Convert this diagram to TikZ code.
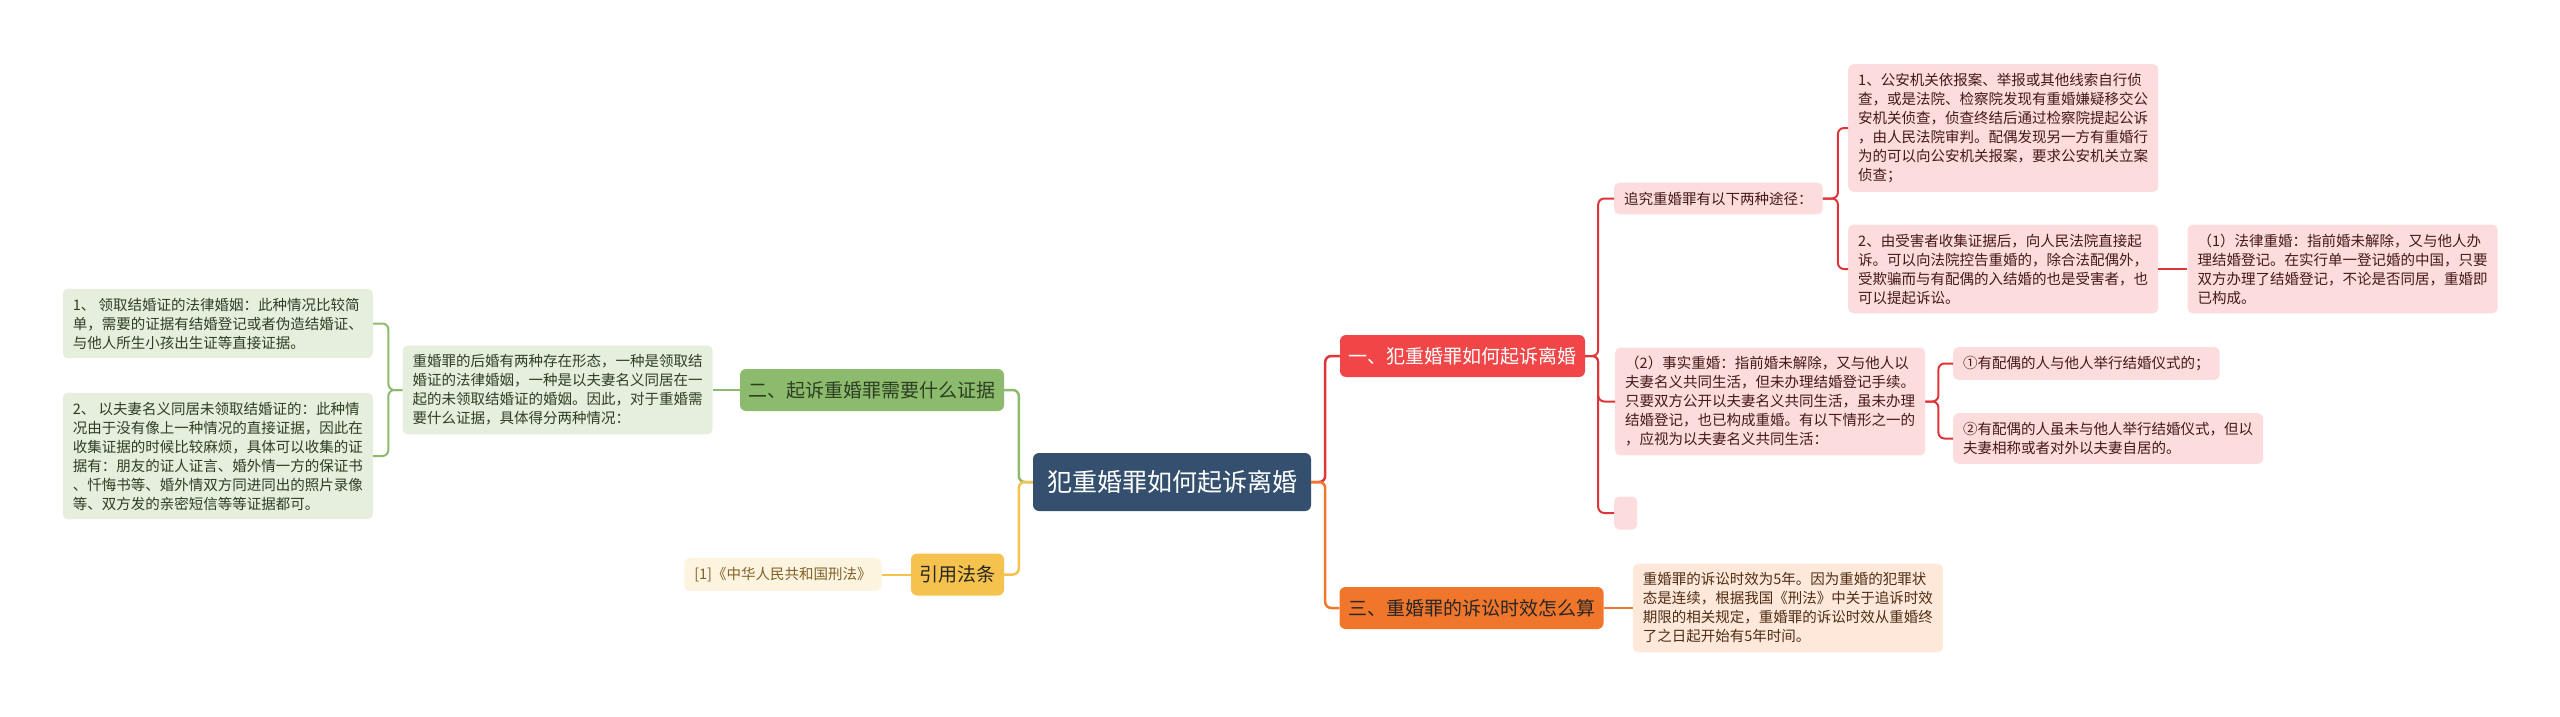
\documentclass[tikz,border=0pt]{standalone}
\usepackage{fontspec}
\newfontfamily\zhfont{Noto Sans CJK SC}
\usetikzlibrary{positioning}
\definecolor{rootblue}{RGB}{52,80,110}
\definecolor{redmain}{RGB}{240,70,72}
\definecolor{redline}{RGB}{224,52,56}
\definecolor{redleaf}{RGB}{252,220,221}
\definecolor{redtext}{RGB}{70,25,25}
\definecolor{orangemain}{RGB}{240,118,44}
\definecolor{orangeleaf}{RGB}{253,232,218}
\definecolor{orangetext}{RGB}{80,45,20}
\definecolor{greenmain}{RGB}{140,187,110}
\definecolor{greenleaf}{RGB}{230,239,222}
\definecolor{greentext}{RGB}{45,62,35}
\definecolor{yellowmain}{RGB}{246,194,78}
\definecolor{yellowleaf}{RGB}{253,244,224}
\definecolor{yellowtext}{RGB}{128,96,40}

\begin{document}
\begin{tikzpicture}[x=1pt,y=1pt,
    box/.style={rounded corners=5pt, inner xsep=10pt, inner ysep=9pt, align=left,
      font=\zhfont\fontsize{14.5}{19}\selectfont},
    redbox/.style={box, fill=redleaf, text=redtext},
    greenbox/.style={box, fill=greenleaf, text=greentext},
    main/.style={rounded corners=6pt, minimum height=42pt, inner xsep=8.5pt,
      font=\zhfont\fontsize{19}{23}\selectfont},
    link/.style={line width=2pt, rounded corners=6pt}]
    \useasboundingbox (0,0) rectangle (2560,-717);

    \node[main, fill=rootblue, text=white, minimum height=58pt, inner xsep=14pt,
      font=\zhfont\fontsize{25}{30}\selectfont] (root) at (1172,-482) {犯重婚罪如何起诉离婚};
    \node[main, fill=redmain, text=white] (yi) at (1462.5,-356) {一、犯重婚罪如何起诉离婚};
    \node[main, fill=orangemain, text=black!85] (san) at (1471.5,-608) {三、重婚罪的诉讼时效怎么算};
    \node[main, fill=greenmain, text=greentext] (er) at (872,-390) {二、起诉重婚罪需要什么证据};
    \node[main, fill=yellowmain, text=black!85] (fatiao) at (957.5,-574.5) {引用法条};

    \node[redbox, anchor=west] (tujing) at (1614,-198.5) {追究重婚罪有以下两种途径：};
    \node[redbox, anchor=west] (gongan) at (1848,-128) {1、公安机关依报案、举报或其他线索自行侦\\查，或是法院、检察院发现有重婚嫌疑移交公\\安机关侦查，侦查终结后通过检察院提起公诉\\，由人民法院审判。配偶发现另一方有重婚行\\为的可以向公安机关报案，要求公安机关立案\\侦查；};
    \node[redbox, anchor=west] (shouhai) at (1848,-269) {2、由受害者收集证据后，向人民法院直接起\\诉。可以向法院控告重婚的，除合法配偶外，\\受欺骗而与有配偶的入结婚的也是受害者，也\\可以提起诉讼。};
    \node[redbox, right=29pt of shouhai] (falv) {（1）法律重婚：指前婚未解除，又与他人办\\理结婚登记。在实行单一登记婚的中国，只要\\双方办理了结婚登记，不论是否同居，重婚即\\已构成。};
    \node[redbox, anchor=west] (shishi) at (1615,-401.5) {（2）事实重婚：指前婚未解除，又与他人以\\夫妻名义共同生活，但未办理结婚登记手续。\\只要双方公开以夫妻名义共同生活，虽未办理\\结婚登记，也已构成重婚。有以下情形之一的\\，应视为以夫妻名义共同生活：};
    \node[redbox, anchor=west] (yishi) at (1953,-363.5) {①有配偶的人与他人举行结婚仪式的；};
    \node[redbox, anchor=west] (zicheng) at (1953,-438.5) {②有配偶的人虽未与他人举行结婚仪式，但以\\夫妻相称或者对外以夫妻自居的。};
    \node[redbox, anchor=west, minimum width=23pt, minimum height=33pt, inner sep=0pt] (kong) at (1614,-513) {};

    \node[box, fill=orangeleaf, text=orangetext, right=29pt of san] (shixiao) {重婚罪的诉讼时效为5年。因为重婚的犯罪状\\态是连续，根据我国《刑法》中关于追诉时效\\期限的相关规定，重婚罪的诉讼时效从重婚终\\了之日起开始有5年时间。};

    \node[greenbox, left=27pt of er] (xingtai) {重婚罪的后婚有两种存在形态，一种是领取结\\婚证的法律婚姻，一种是以夫妻名义同居在一\\起的未领取结婚证的婚姻。因此，对于重婚需\\要什么证据，具体得分两种情况：};
    \node[greenbox, anchor=east] (lingqu) at (373,-323.5) {1、 领取结婚证的法律婚姻：此种情况比较简\\单，需要的证据有结婚登记或者伪造结婚证、\\与他人所生小孩出生证等直接证据。};
    \node[greenbox, anchor=east] (tongju) at (373,-456) {2、 以夫妻名义同居未领取结婚证的：此种情\\况由于没有像上一种情况的直接证据，因此在\\收集证据的时候比较麻烦，具体可以收集的证\\据有：朋友的证人证言、婚外情一方的保证书\\、忏悔书等、婚外情双方同进同出的照片录像\\等、双方发的亲密短信等等证据都可。};

    \node[box, fill=yellowleaf, text=yellowtext, left=29pt of fatiao] (xingfa) {[1]《中华人民共和国刑法》};

    \draw[link, redline, line width=2.5pt] (root.east) -- ++(14,0) |- (yi.west);
    \draw[link, orangemain, line width=2.5pt] (root.east) -- ++(14,0) |- (san.west);
    \draw[link, greenmain, line width=2.5pt] (root.west) -- ++(-14,0) |- (er.east);
    \draw[link, yellowmain, line width=2.5pt] (root.west) -- ++(-14,0) |- (fatiao.east);
    \foreach \t in {tujing,shishi,kong}
        \draw[link, redline] (yi.east) -- ++(13,0) |- (\t.west);
    \foreach \t in {gongan,shouhai}
        \draw[link, redline] (tujing.east) -- ++(15,0) |- (\t.west);
    \draw[link, redline] (shouhai) -- (falv);
    \foreach \t in {yishi,zicheng}
        \draw[link, redline] (shishi.east) -- ++(13,0) |- (\t.west);
    \draw[link, orangemain] (san) -- (shixiao);
    \draw[link, greenmain] (er) -- (xingtai);
    \foreach \t in {lingqu,tongju}
        \draw[link, greenmain] (xingtai.west) -- ++(-14,0) |- (\t.east);
    \draw[link, yellowmain] (fatiao) -- (xingfa);
\end{tikzpicture}
\end{document}
